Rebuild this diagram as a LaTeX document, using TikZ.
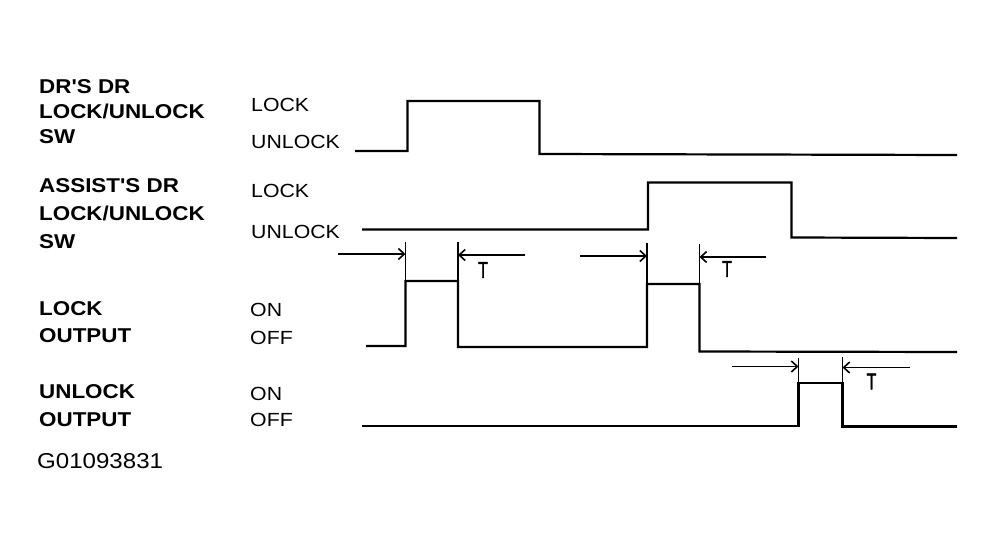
\documentclass[tikz,border=0pt]{standalone}
\usepackage{fontspec}
\setmainfont{Liberation Sans}[FakeStretch=1.12, Ligatures=TeXOff]
\newfontfamily\tfont{Liberation Sans}[FakeStretch=0.7, FakeBold=1.5]
\usetikzlibrary{arrows.meta}
\begin{document}
\begin{tikzpicture}[x=1pt,y=-1pt,
  wave/.style={line width=2.2pt, line join=miter},
  tickline/.style={line width=1.8pt},
  dim/.style={line width=1.6pt, -{Straight Barb[length=6pt,width=11pt,line width=1.6pt]}},
  lab/.style={anchor=base west, inner sep=0pt, font=\fontsize{19}{19}\selectfont},
  blab/.style={anchor=base west, inner sep=0pt, font=\fontsize{20}{20}\selectfont\bfseries},
  tlab/.style={inner sep=0pt, font=\fontsize{23}{23}\selectfont\tfont}]
\useasboundingbox (0,0) rectangle (996,548);
% left labels
\node[blab] (l1) at (39,93.3) {DR'S DR};
\node[blab] (l2) at (39,118.3) {LOCK/UNLOCK};
\node[blab] (l3) at (39,144) {SW};
\node[blab] (l4) at (39,192.7) {ASSIST'S DR};
\node[blab] (l5) at (39,220.7) {LOCK/UNLOCK};
\node[blab] (l6) at (39,248.3) {SW};
\node[blab] (l7) at (39,315) {LOCK};
\node[blab] (l8) at (39,342.7) {OUTPUT};
\node[blab] (l9) at (39,398.3) {UNLOCK};
\node[blab] (l10) at (39,426) {OUTPUT};
\node[anchor=base west, inner sep=0pt, font=\fontsize{21.5}{21.5}\selectfont] (code) at (37,468.7) {G01093831};
% state labels
\node[lab] (s1) at (251,111.7) {LOCK};
\node[lab] (s2) at (251,148.3) {UNLOCK};
\node[lab] (s3) at (251,197.3) {LOCK};
\node[lab] (s4) at (251,238.3) {UNLOCK};
\node[lab] (s5) at (250,316.7) {ON};
\node[lab] (s6) at (250,344) {OFF};
\node[lab] (s7) at (250,400) {ON};
\node[lab] (s8) at (250,426.7) {OFF};
% waveforms
\draw[wave] (355,151) -- (407.5,151) -- (407.5,101) -- (539.5,101) -- (539.5,154) -- (957,155);
\draw[wave] (362,229.5) -- (648,229.5) -- (648,182.5) -- (791.5,182.5) -- (791.5,237.5) -- (957,238);
\draw[wave] (366,346) -- (405.5,346) -- (405.5,281) -- (458,281) -- (458,347) -- (647,347) -- (647,284) -- (699.5,284) -- (699.5,351.5) -- (957,352);
\draw[wave] (362,426) -- (798.5,426) -- (798.5,383) -- (842.5,383) -- (842.5,426.5) -- (957,426.5);
% timing ticks
\coordinate (t1) at (405.5,254);
\coordinate (t2) at (458,255);
\coordinate (t3) at (647,256);
\coordinate (t4) at (699.5,257);
\coordinate (t5) at (798.5,366.5);
\coordinate (t6) at (842.5,367.5);
\draw[tickline] (405.5,242) -- (405.5,281);
\draw[tickline] (458,242) -- (458,281);
\draw[tickline] (647,243) -- (647,284);
\draw[tickline] (699.5,244) -- (699.5,284);
\draw[tickline] (798.5,358) -- (798.5,383);
\draw[tickline] (842.5,357) -- (842.5,383);
% dimension arrows
\coordinate (a1) at (338,254);
\coordinate (a2) at (525,255);
\coordinate (a3) at (580,256);
\coordinate (a4) at (766,257);
\coordinate (a5) at (732,366.5);
\coordinate (a6) at (910,367.5);
\draw[dim] (a1) -- (t1);
\draw[dim] (a2) -- (t2);
\draw[dim] (a3) -- (t3);
\draw[dim] (a4) -- (t4);
\draw[dim] (a5) -- (t5);
\draw[dim] (a6) -- (t6);
\node[tlab] (T1) at (483,270) {T};
\node[tlab] (T2) at (727,269) {T};
\node[tlab] (T3) at (871.5,381.5) {T};
\end{tikzpicture}
\end{document}
